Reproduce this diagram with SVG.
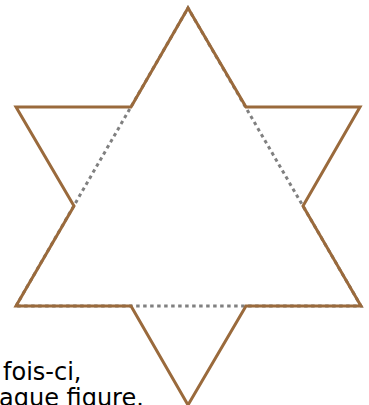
<svg xmlns="http://www.w3.org/2000/svg" width="369" height="405" viewBox="0 0 369 405">
<style>
.dot{fill:none;stroke:#808080;stroke-width:3;stroke-dasharray:3.5 3.5}
.star{fill:none;stroke:#9a6a3c;stroke-width:3;stroke-linejoin:miter}
.txt{font-family:"DejaVu Sans",sans-serif;font-size:24px;fill:#000}
</style>
<g id="connectors">
<path class="dot" d="M16,306 L188,8 L361,306 Z"/>
</g>
<g id="star">
<path class="star" d="M188,8 L246,107 L360,107 L303,206 L361,306 L246,306 L188,405 L131,306 L16,306 L74,206 L16,107 L131,107 Z"/>
</g>
<g id="caption">
<text class="txt" x="3" y="380">fois-ci,</text>
<text class="txt" x="-1" y="406">aque figure.</text>
</g>
</svg>
